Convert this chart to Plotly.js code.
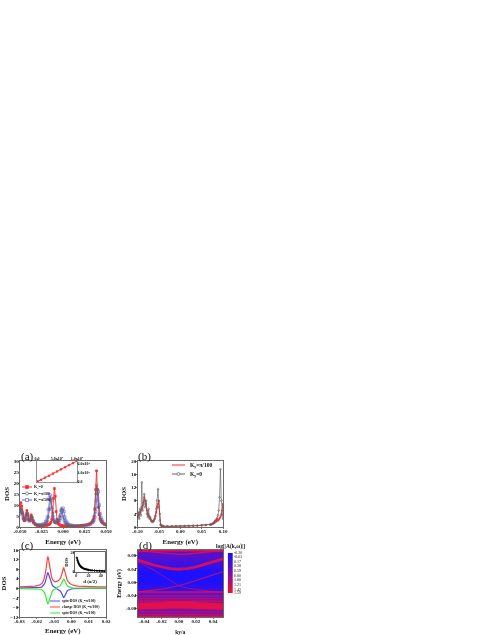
<!DOCTYPE html>
<html><head><meta charset="utf-8">
<script src="https://cdn.plot.ly/plotly-3.0.1.min.js"></script>
<style>html,body{margin:0;padding:0;background:#fff}#c{width:491px;height:635px;filter:blur(0.4px)}</style>
</head><body><div id="c"></div>
<script>
// ---- panel (a)
const energyA=[-0.05,-0.049,-0.048,-0.047,-0.046,-0.045,-0.044,-0.043,-0.042,-0.041,-0.04,-0.039,-0.038,-0.037,-0.036,-0.035,-0.034,-0.032,-0.03,-0.028,-0.026,-0.024,-0.022,-0.02,-0.019,-0.018,-0.017,-0.016,-0.015,-0.014,-0.013,-0.012,-0.011,-0.01,-0.009,-0.008,-0.007,-0.006,-0.005,-0.004,-0.003,-0.002,-0.001,0,0.001,0.002,0.003,0.004,0.005,0.006,0.008,0.01,0.012,0.015,0.018,0.021,0.024,0.027,0.03,0.032,0.034,0.035,0.036,0.037,0.038,0.039,0.04,0.041,0.042,0.043,0.044,0.045,0.046,0.048,0.05];
const dosKy0=[8,11,9.5,6.5,4,3,3.5,5.5,7.5,6,3.5,2.8,3.5,5.5,4.5,2.8,1.8,1,0.7,0.5,0.5,0.5,0.6,0.7,0.8,0.9,1,1.2,1.6,2.2,3.5,6.5,13,17.5,14,7,3.5,2,1.3,1,0.8,0.7,0.6,0.5,0.5,0.4,0.4,0.4,0.4,0.4,0.4,0.4,0.4,0.4,0.5,0.6,0.7,0.9,1.2,1.6,2.3,3,4.5,8,17,25.5,17,9,5.5,3.8,2.8,2.2,1.8,1.3,1];
const dosKy100=[6.5,8.5,8,6,4,3,3.5,5,6.5,5.5,3.5,3,3.5,4.8,4.2,3,2,1.2,0.8,0.7,0.7,0.8,1,1.4,1.8,2.6,4.5,8,12.5,13,9,5,3,2.2,2,2,2.2,2.6,3.5,5,7.5,8.5,7,4.5,3,2,1.5,1.1,0.9,0.8,0.6,0.5,0.5,0.5,0.6,0.7,0.8,1,1.3,1.8,2.7,3.4,5,8.5,15,19,15,9,6,4,3,2.4,2,1.4,1];
const dosKy50=[6,7.5,7.2,5.5,4,3,3.2,4.5,6,5,3.5,2.8,3.2,4.5,4,2.8,2,1.3,1,0.9,1,1.1,1.5,2.3,3,4.5,8,13,14.5,12,8,5,3.5,2.6,2.2,2,2,2.1,2.4,3,4,5.5,7.5,8.5,7,4.5,3,2.2,1.6,1.2,0.9,0.7,0.6,0.5,0.5,0.6,0.7,0.8,1,1.4,2,2.4,3.2,4.5,7,12,17,16,10,6,4.3,3.2,2.5,1.4,1];
const insetAx=[20000,100000,200000,300000,400000,500000,600000,700000,800000,900000,1000000];
const insetAy=[2000,7500,14500,21000,28000,35000,42000,49000,56000,63000,70000];
// ---- panel (b)
const energyB=[-0.1,-0.098,-0.096,-0.094,-0.092,-0.09,-0.088,-0.086,-0.084,-0.082,-0.08,-0.078,-0.076,-0.074,-0.072,-0.07,-0.068,-0.066,-0.064,-0.062,-0.06,-0.058,-0.056,-0.054,-0.052,-0.05,-0.048,-0.046,-0.044,-0.042,-0.04,-0.03,-0.02,-0.01,0,0.01,0.02,0.03,0.04,0.05,0.06,0.07,0.072,0.074,0.076,0.078,0.08,0.082,0.084,0.086,0.088,0.09,0.092,0.094,0.096,0.098,0.1];
const bGrey=[3,4.5,2.5,5.5,3.5,13.5,5,7,10,6,8,4,3,5.5,2.5,3,1.8,1.6,1.5,1.8,2.5,3.5,5.5,8,11.5,6,2,0.8,0.5,0.4,0.3,0.2,0.2,0.2,0.25,0.3,0.35,0.4,0.45,0.5,0.6,0.7,0.8,0.9,1,1.2,1.4,1.7,2,2.6,3.5,5,9,17.5,8,3.5,2.5];
const bRed=[3,3.5,4,4.5,5,6,6.5,7.5,9,8,7,5,4,3.5,3,2.5,2,1.8,1.8,2,2.5,3.2,4.5,6,7,8,4,0.6,0.3,0.25,0.2,0.2,0.2,0.2,0.2,0.25,0.3,0.35,0.4,0.5,0.6,0.7,0.8,0.9,1,1.3,1.2,2,1.6,2.4,1.9,2.2,2.6,3,3.8,5,7];
// ---- panel (c)
const energyC=[-0.03,-0.026,-0.023,-0.021,-0.019,-0.018,-0.017,-0.016,-0.0155,-0.015,-0.0145,-0.014,-0.0137,-0.0133,-0.013,-0.0125,-0.012,-0.0115,-0.011,-0.0105,-0.01,-0.0095,-0.009,-0.0085,-0.008,-0.0075,-0.007,-0.0065,-0.006,-0.0055,-0.005,-0.0045,-0.004,-0.0035,-0.003,-0.0025,-0.002,-0.0015,-0.001,0,0.001,0.002,0.004,0.007,0.01,0.015,0.02];
const charge=[0.6,0.7,0.8,0.9,1.2,1.5,2,3.4,4.6,6.5,9,12.2,13.3,12.6,11.2,8.4,6.2,4.8,3.8,3.2,2.9,2.7,2.7,2.8,3,3.2,3.5,4,4.7,5.8,7.4,8.7,7.6,5.9,4.5,3.6,2.9,2.4,2.1,1.6,1.3,1.1,0.9,0.75,0.7,0.6,0.6];
const spinUp=[0.1,0.12,0.15,0.2,0.3,0.4,0.6,1.3,1.9,2.9,4.1,5.8,6.6,6.1,5.4,3.9,2.7,1.9,1.2,0.8,0.5,0.2,0,-0.2,-0.4,-0.6,-0.8,-1.1,-1.6,-2.3,-3.3,-4,-3.4,-2.4,-1.7,-1.2,-0.8,-0.6,-0.45,-0.3,-0.2,-0.15,-0.1,-0.08,-0.05,-0.03,-0.03];
const spinDown=[-0.1,-0.12,-0.15,-0.2,-0.3,-0.4,-0.6,-1.3,-1.9,-2.9,-4.1,-5.8,-6.6,-6.1,-5.4,-3.9,-2.7,-1.9,-1.2,-0.8,-0.5,-0.2,0,0.2,0.4,0.6,0.8,1.1,1.6,2.3,3.3,4,3.4,2.4,1.7,1.2,0.8,0.6,0.45,0.3,0.2,0.15,0.1,0.08,0.05,0.03,0.03];
const insetCd=[1,2,3,4,5,6,7,8,9,10,12,14,16,18,20,23,26,30,34,38,42,46];
const insetCdos=[15,12.5,10.5,9,7.8,6.8,6,5.4,4.9,4.4,3.7,3.2,2.8,2.5,2.2,1.9,1.7,1.5,1.3,1.2,1.1,1];
// ---- panel (d)
const kx=[-0.048,-0.04,-0.03,-0.02,-0.01,0,0.01,0.02,0.03,0.04,0.0515];
const bgEnergy=[-0.105,-0.095,-0.085,-0.075,-0.055,-0.04,-0.03,-0.02,0,0.03,0.05,0.07,0.097];
const bgLog=[0.95,0.7,0.7,1.0,0.7,0.55,0.45,0.05,-0.15,-0.18,0.05,0.3,0.45];
const bandTop=[0.095,0.093,0.09,0.087,0.085,0.084,0.085,0.087,0.09,0.093,0.095];
const bandEdge=[0.096,0.096,0.096,0.096,0.096,0.096,0.096,0.096,0.096,0.096,0.096];
const bandUpper=[0.067,0.06,0.052,0.046,0.041,0.039,0.041,0.046,0.053,0.062,0.07];
const bandCrossA=[0.062,0.052,0.038,0.022,0.006,-0.011,-0.018,-0.022,-0.026,-0.029,-0.031];
const bandCrossB=[-0.03,-0.028,-0.025,-0.021,-0.016,-0.011,-0.003,0.005,0.013,0.022,0.032];
const bandL1=[-0.03,-0.03,-0.03,-0.03,-0.03,-0.03,-0.03,-0.03,-0.03,-0.03,-0.03];
const bandL2=[-0.042,-0.042,-0.041,-0.04,-0.04,-0.04,-0.04,-0.04,-0.041,-0.042,-0.042];
const bandL3=[-0.05,-0.05,-0.049,-0.049,-0.049,-0.049,-0.049,-0.049,-0.049,-0.05,-0.05];
const bandL4=[-0.057,-0.057,-0.057,-0.056,-0.056,-0.056,-0.056,-0.056,-0.057,-0.057,-0.057];
const bandThick1=[-0.07,-0.07,-0.069,-0.067,-0.065,-0.064,-0.065,-0.067,-0.069,-0.07,-0.071];
const bandThick2=[-0.078,-0.078,-0.077,-0.076,-0.075,-0.074,-0.075,-0.076,-0.077,-0.078,-0.079];
const bandL5=[-0.09,-0.09,-0.09,-0.09,-0.09,-0.09,-0.09,-0.09,-0.09,-0.09,-0.09];
const bandL6=[-0.098,-0.098,-0.098,-0.098,-0.098,-0.098,-0.098,-0.098,-0.098,-0.098,-0.098];
const bandBottom=[-0.104,-0.104,-0.104,-0.104,-0.104,-0.104,-0.104,-0.104,-0.104,-0.104,-0.104];
const barValues=[-0.20,-0.03,0.17,0.38,0.59,0.80,1.00,1.21,1.42,1.59];
const barLabels=['-0.20','-0.03','0.17','0.38','0.59','0.80','1.00','1.21','1.42','1.59'];

const W=491,H=635,F='"Liberation Serif",serif';
const X=p=>p/W, Y=p=>1-p/H;
const tf={family:F,size:5,color:'#111',weight:700};
const frame='#444';
function axis(extra){return Object.assign({showline:true,mirror:true,linecolor:frame,linewidth:0.8,ticks:'outside',ticklen:1.5,tickwidth:0.7,tickcolor:frame,ticklabelstandoff:-2,showgrid:false,zeroline:false,tickfont:tf,fixedrange:true},extra);}
function ttl(t,s,st){return {text:t,font:{family:F,size:s,color:'#111',weight:700},standoff:st};}
const redC='#ff2a2a',greyC='#666',blueC='#5a5aff';
const sc=(x,y,xa,ya,color,lw,sym,ms)=>{
 const t={type:'scatter',x,y,xaxis:xa,yaxis:ya,mode:sym?'lines+markers':'lines',line:{color,width:lw},showlegend:false,hoverinfo:'skip'};
 if(sym)t.marker={symbol:sym,size:ms,color,line:{color,width:0.6}};
 return t;};
const scaleColors=[[0,'#1a10ff'],[0.35,'#5a10c8'],[0.7,'#b01070'],[1,'#ff1018']];
const band=(e,lw,op)=>Object.assign(sc(kx,e,'x4','y4','#e8104a',lw),{opacity:op});

const data=[
 // (a)
 sc(energyA,dosKy50,'x','y',blueC,0.8,'square-open',2.6),
 sc(energyA,dosKy0,'x','y',redC,0.9,'square',2),
 sc(energyA,dosKy100,'x','y',greyC,0.8,'circle-open',2.2),
 sc(insetAx,insetAy,'x5','y5',redC,0.9,'square',1.6),
 // (b)
 sc(energyB,bRed,'x2','y2',redC,1,'square',1.2),
 sc(energyB,bGrey,'x2','y2',greyC,0.7,'circle-open',1.8),
 // (c)
 sc(energyC,charge,'x3','y3','#ff4040',1.2),
 sc(energyC,spinUp,'x3','y3','#4a4aff',1.2),
 sc(energyC,spinDown,'x3','y3','#35ee35',1.2),
 sc(insetCd,insetCdos,'x6','y6','#000',1.1,'circle',1.6),
 // (d) background and bands
 {type:'heatmap',x:[kx[0],kx[kx.length-1]],y:bgEnergy,z:bgLog.map(v=>[v,v]),xaxis:'x4',yaxis:'y4',zmin:-0.2,zmax:1.59,colorscale:scaleColors,zsmooth:'best',showscale:false,hoverinfo:'skip'},
 band(bandEdge,2.2,1),band(bandTop,1.3,.8),band(bandUpper,2.8,.85),band(bandCrossA,0.9,.65),band(bandCrossB,1.1,.75),
 band(bandL1,1.5,.8),band(bandL2,1,.6),band(bandL3,1,.6),band(bandL4,1.2,.7),band(bandThick1,5,.95),band(bandThick2,3,.85),band(bandL5,1.2,.55),band(bandL6,1.2,.55),band(bandBottom,1.6,.8),
 // colour scale of (d)
 {type:'heatmap',x:[0,1],y:barValues,z:barValues.map(v=>[v,v]),xaxis:'x7',yaxis:'y7',zmin:-0.2,zmax:1.59,colorscale:scaleColors,zsmooth:'best',showscale:false,hoverinfo:'skip'}
];

const tick05=[-0.05,-0.025,0,0.025,0.05], t05=['-0.050','-0.025','0.000','0.025','0.050'];
const small=Object.assign({},tf,{size:4});
const layout={
 width:W,height:H,margin:{l:0,r:0,t:0,b:0},paper_bgcolor:'#fff',plot_bgcolor:'rgba(0,0,0,0)',showlegend:false,
 xaxis:axis({domain:[X(20),X(106)],range:[-0.05,0.05],tickvals:tick05,ticktext:t05,anchor:'y',title:ttl('Energy (eV)',6.8,5)}),
 yaxis:axis({domain:[Y(527),Y(461)],range:[0,30],tickvals:[0,5,10,15,20,25,30],anchor:'x',title:ttl('DOS',6.8,3)}),
 xaxis2:axis({domain:[X(137.5),X(223)],range:[-0.1,0.1],tickvals:[-0.1,-0.05,0,0.05,0.1],ticktext:['-0.10','-0.05','0.00','0.05','0.10'],anchor:'y2',title:ttl('Energy (eV)',6.8,5)}),
 yaxis2:axis({domain:[Y(527),Y(461)],range:[0,20],tickvals:[0,4,8,12,16,20],anchor:'x2',title:ttl('DOS',6.8,3)}),
 xaxis3:axis({domain:[X(19.5),X(106)],range:[-0.03,0.02],tickvals:[-0.03,-0.02,-0.01,0,0.01,0.02],ticktext:['-0.03','-0.02','-0.01','0.00','0.01','0.02'],anchor:'y3',title:ttl('Energy (eV)',6.8,6)}),
 yaxis3:axis({domain:[Y(617),Y(550)],range:[-12,16],tickvals:[-12,-8,-4,0,4,8,12,16],anchor:'x3',title:ttl('DOS',6.8,3)}),
 xaxis4:axis({domain:[X(137.5),X(223)],range:[-0.048,0.0515],tickvals:[-0.04,-0.02,0,0.02,0.04],ticktext:['-0.04','-0.02','0.00','0.02','0.04'],anchor:'y4',title:ttl('ky/a',5.5,6)}),
 yaxis4:axis({domain:[Y(617),Y(550)],range:[-0.105,0.097],tickvals:[-0.08,-0.04,0,0.04,0.08],ticktext:['-0.08','-0.04','0.00','0.04','0.08'],anchor:'x4',title:ttl('Energy (eV)',5.5,3)}),
 xaxis5:axis({domain:[X(37),X(77)],range:[0,1000000],side:'top',anchor:'y5',tickvals:[0,500000,1000000],ticktext:['0.0','5.0x10<sup>5</sup>','1.0x10<sup>6</sup>'],tickfont:small,ticklen:1,linecolor:'#777'}),
 yaxis5:axis({domain:[Y(482),Y(461)],range:[0,70000],side:'right',anchor:'x5',tickvals:[0,30000,60000],ticktext:['0.0','3.0x10<sup>4</sup>','6.0x10<sup>4</sup>'],tickfont:small,ticklen:1,linecolor:'#777'}),
 xaxis6:axis({domain:[X(75),X(105)],range:[-2,47],anchor:'y6',tickvals:[0,20,40],tickfont:small,ticklen:1,title:ttl('d (a/2)',5,2)}),
 yaxis6:axis({domain:[Y(572),Y(552)],range:[0,21],anchor:'x6',tickvals:[0,20],tickfont:small,ticklen:1,title:ttl('DOS',4.5,1)}),
 xaxis7:{domain:[X(227.7),X(233)],range:[0,1],anchor:'y7',visible:false,fixedrange:true},
 yaxis7:{domain:[Y(593),Y(553)],range:[1.59,-0.2],anchor:'x7',side:'right',tickvals:barValues,ticktext:barLabels,ticks:'',showline:false,showgrid:false,zeroline:false,tickfont:{family:F,size:4,color:'#222'},fixedrange:true},
 annotations:[],shapes:[]
};
const note=(t,x,y,size,bold,anchor)=>layout.annotations.push({text:t,xref:'paper',yref:'paper',x:X(x),y:Y(y),xanchor:anchor||'left',yanchor:'middle',showarrow:false,font:{family:F,size,color:'#111',weight:bold?700:400}});
note('(a)',19,456.5,11);note('(b)',136,456.5,11);note('(c)',19,545,11);note('(d)',137,545,11);
note('log[|A(k,ω)|]',214,546,5.5,true);
// legend keys
function key(x0,x1,y,color,mark,filled,label,tx,size){
 layout.shapes.push({type:'line',xref:'paper',yref:'paper',x0:X(x0),x1:X(x1),y0:Y(y),y1:Y(y),line:{color,width:1}});
 if(mark){const m=(x0+x1)/2,r=mark;layout.shapes.push({type:filled==='c'?'circle':'rect',xref:'paper',yref:'paper',x0:X(m-r),x1:X(m+r),y0:Y(y+r),y1:Y(y-r),line:{color,width:0.7},fillcolor:filled===true?color:'#fff'});}
 note(label,tx,y,size,true);
}
key(22,32,487,redC,1.5,true,'K<sub>y</sub>=0',32,4);
key(22,32,493.5,greyC,1.5,'c','K<sub>y</sub>=π/100',32,4);
key(22,32,500,blueC,1.5,false,'K<sub>y</sub>=π/500',32,4);
key(172,185,465,redC,0,false,'K<sub>y</sub>=π/100',188,5.5);
key(172,185,474,greyC,1.5,'c','K<sub>y</sub>=0',188,5.5);
key(50,60,601,'#4a4aff',0,false,'spin-DOS (K<sub>y</sub>=π/100)',60,3.7);
key(50,60,607,'#ff4040',0,false,'charge DOS (K<sub>y</sub>=π/100)',60,3.7);
key(50,60,613,'#35ee35',0,false,'spin-DOS (K<sub>y</sub>=π/100)',60,3.7);
Plotly.newPlot('c',data,layout,{staticPlot:true,displayModeBar:false});
</script></body></html>
